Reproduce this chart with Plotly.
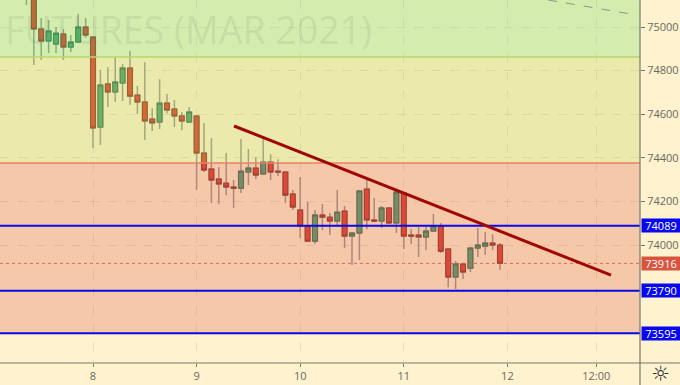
import plotly.graph_objects as go

# Bars are hourly; position 0 is the start of day "8", 14 bars per session
bar_index = list(range(-9, 56))
opens = [75180, 75320, 74991, 74936, 74922, 74968, 74908, 74931, 75000,
         74954, 74541, 74739, 74702, 74743, 74812, 74688, 74656, 74578, 74564, 74651, 74624, 74592, 74564,
         74592, 74422, 74349, 74303, 74284, 74266, 74261, 74335, 74353, 74326, 74381, 74339, 74335, 74234,
         74161, 74087, 74018, 74138, 74128, 74110, 74156, 74041, 74055, 74257, 74115, 74110, 74170, 74101,
         74239, 74046, 74046, 74037, 74064, 74087, 73982, 73853, 73913, 73894, 73986, 73995, 74009, 74000]
highs = [75200, 75340, 75041, 75032, 75000, 74991, 74963, 75060, 75041,
         74959, 74803, 74816, 74862, 74830, 74890, 74729, 74839, 74628, 74761, 74693, 74665, 74610, 74633,
         74592, 74560, 74491, 74358, 74422, 74298, 74486, 74440, 74404, 74486, 74417, 74394, 74339, 74252,
         74312, 74197, 74161, 74188, 74147, 74252, 74179, 74060, 74252, 74298, 74216, 74179, 74174, 74252,
         74243, 74073, 74083, 74083, 74142, 74101, 73986, 73927, 73917, 73991, 74078, 74060, 74050, 74009]
lows = [75101, 74826, 74849, 74881, 74881, 74849, 74885, 74927, 74950,
        74445, 74459, 74633, 74656, 74661, 74642, 74601, 74482, 74523, 74532, 74605, 74541, 74527, 74560,
        74252, 74335, 74193, 74188, 74229, 74170, 74239, 74275, 74303, 74326, 74298, 74317, 74193, 74161,
        74032, 74018, 74005, 74069, 74046, 74092, 73986, 73908, 73931, 74073, 74106, 74078, 74096, 74055,
        73982, 74005, 73945, 73977, 74064, 73963, 73807, 73798, 73844, 73876, 73945, 73954, 73977, 73885]
closes = [75150, 74991, 74936, 74982, 74972, 74908, 74931, 75000, 74963,
          74537, 74734, 74702, 74748, 74812, 74683, 74656, 74569, 74560, 74651, 74619, 74592, 74569, 74610,
          74422, 74344, 74298, 74280, 74266, 74261, 74339, 74353, 74321, 74381, 74335, 74335, 74229, 74174,
          74087, 74018, 74138, 74128, 74110, 74151, 74041, 74055, 74248, 74115, 74110, 74170, 74101, 74243,
          74041, 74041, 74037, 74064, 74087, 73972, 73853, 73913, 73876, 73986, 74000, 74009, 74000, 73916]

tick_positions = [0, 14, 28, 42, 56, 68]
tick_labels = ["8", "9", "10", "11", "12", "12:00"]
price_ticks = [74000, 74200, 74400, 74600, 74800, 75000]

green_zone_floor = 74862
yellow_zone_floor = 74376
red_zone_floor = 73595
blue_levels = [74089, 73790, 73595]
last_price = 73916
trend_x = [19.05, 70.0]
trend_y = [74546, 73862]
faint_x = [61.5, 73.5]
faint_y = [75124, 75055]
watermark = "FUTURES (MAR 2021)"

X_RANGE = [-12.57, 73.92]
Y_RANGE = [73459, 75124]
W, H = 640, 363
CREAM = "#FEF2CF"

body_high = [max(o, c) for o, c in zip(opens, closes)]
body_low = [min(o, c) for o, c in zip(opens, closes)]

fig = go.Figure()
# wicks
fig.add_trace(go.Candlestick(
    x=bar_index, open=opens, high=highs, low=lows, close=closes,
    increasing=dict(line=dict(color="#96968c", width=1.5), fillcolor="#96968c"),
    decreasing=dict(line=dict(color="#96968c", width=1.5), fillcolor="#96968c"),
    whiskerwidth=0, showlegend=False, hoverinfo="skip"))
# bodies
fig.add_trace(go.Candlestick(
    x=bar_index, open=opens, high=body_high, low=body_low, close=closes,
    increasing=dict(line=dict(color="#2c6a48", width=1), fillcolor="#48A06C"),
    decreasing=dict(line=dict(color="#8a2a1c", width=1), fillcolor="#DC3C2A"),
    whiskerwidth=0, showlegend=False, hoverinfo="skip"))

def band(y0, y1, color):
    fig.add_shape(type="rect", xref="paper", yref="y", x0=0, x1=1, y0=y0, y1=y1,
                  fillcolor=color, line_width=0, layer="above")

def hline(y, color, width, dash="solid"):
    fig.add_shape(type="line", xref="paper", yref="y", x0=0, x1=1, y0=y, y1=y,
                  line=dict(color=color, width=width, dash=dash), layer="above")

band(green_zone_floor, Y_RANGE[1], "rgba(117,225,104,0.30)")
band(yellow_zone_floor, green_zone_floor, "rgba(191,212,90,0.30)")
band(red_zone_floor, yellow_zone_floor, "rgba(224,102,87,0.30)")
hline(green_zone_floor, "#B4D968", 1.5)
hline(yellow_zone_floor, "#E8806C", 1.5)
hline(last_price, "rgba(220,70,50,0.75)", 1, "dot")
for lv in blue_levels:
    hline(lv, "#0808E8", 2)

fig.add_shape(type="line", x0=trend_x[0], x1=trend_x[1], y0=trend_y[0], y1=trend_y[1],
              line=dict(color="#A00808", width=3), layer="above")
fig.add_shape(type="line", x0=faint_x[0], x1=faint_x[1], y0=faint_y[0], y1=faint_y[1],
              line=dict(color="#8a9a80", width=1, dash="dash"), layer="above")

# frame: vertical and horizontal scale borders run out to the window edge
fig.add_shape(type="line", xref="paper", yref="paper", x0=1, x1=1, y0=-22 / H, y1=1,
              line=dict(color="#787868", width=1.2), layer="above")
fig.add_shape(type="line", xref="paper", yref="paper", x0=0, x1=680 / W, y0=0, y1=0,
              line=dict(color="#787868", width=1.2), layer="above")

fig.add_annotation(text=watermark, xref="paper", yref="paper", x=3 / W, y=1 - 30 / H,
                   xanchor="left", yanchor="middle", showarrow=False,
                   font=dict(family="Open Sans", size=37.5, color="rgba(90,120,80,0.14)"))

for lv in blue_levels:
    fig.add_annotation(text=str(lv), xref="paper", yref="y", x=1 + 0.5 / W, y=lv,
                       xanchor="left", yanchor="middle", showarrow=False,
                       width=38, height=13, borderpad=0, bgcolor="#0808F0",
                       font=dict(family="Open Sans", size=11, color="white"))
fig.add_annotation(text=str(last_price), xref="paper", yref="y", x=1 + 0.5 / W, y=last_price,
                   xanchor="left", yanchor="middle", showarrow=False,
                   width=38, height=13, borderpad=0, bgcolor="#D9543F",
                   font=dict(family="Open Sans", size=11, color="white"))
fig.add_annotation(text="☼", xref="paper", yref="paper", x=660 / W, y=-11 / H,
                   xanchor="center", yanchor="middle", showarrow=False,
                   font=dict(family="DejaVu Sans", size=21, color="#333333"))

GRID = "rgba(170,170,170,0.28)"
fig.update_layout(
    width=680, height=385,
    margin=dict(l=0, r=40, t=0, b=22, autoexpand=False),
    paper_bgcolor=CREAM, plot_bgcolor=CREAM,
    showlegend=False, boxgap=0.08, hovermode=False,
    font=dict(family="Open Sans", size=11, color="#6a6a60"),
    xaxis=dict(range=X_RANGE, rangeslider=dict(visible=False), tickmode="array",
               tickvals=tick_positions, ticktext=tick_labels, ticks="outside", ticklen=3,
               tickcolor="#787868", showgrid=True, gridcolor=GRID, griddash="dash", gridwidth=1,
               zeroline=False, showline=False),
    yaxis=dict(range=Y_RANGE, side="right", tickmode="array", tickvals=price_ticks,
               ticktext=[str(t) for t in price_ticks], ticks="outside", ticklen=4,
               tickcolor="#787868", showgrid=True, gridcolor=GRID, griddash="dash", gridwidth=1,
               zeroline=False, showline=False),
)

fig.write_html("out.html", config=dict(displayModeBar=False),
               post_script="document.body.style.margin='0';document.documentElement.style.background='" + CREAM + "';")
